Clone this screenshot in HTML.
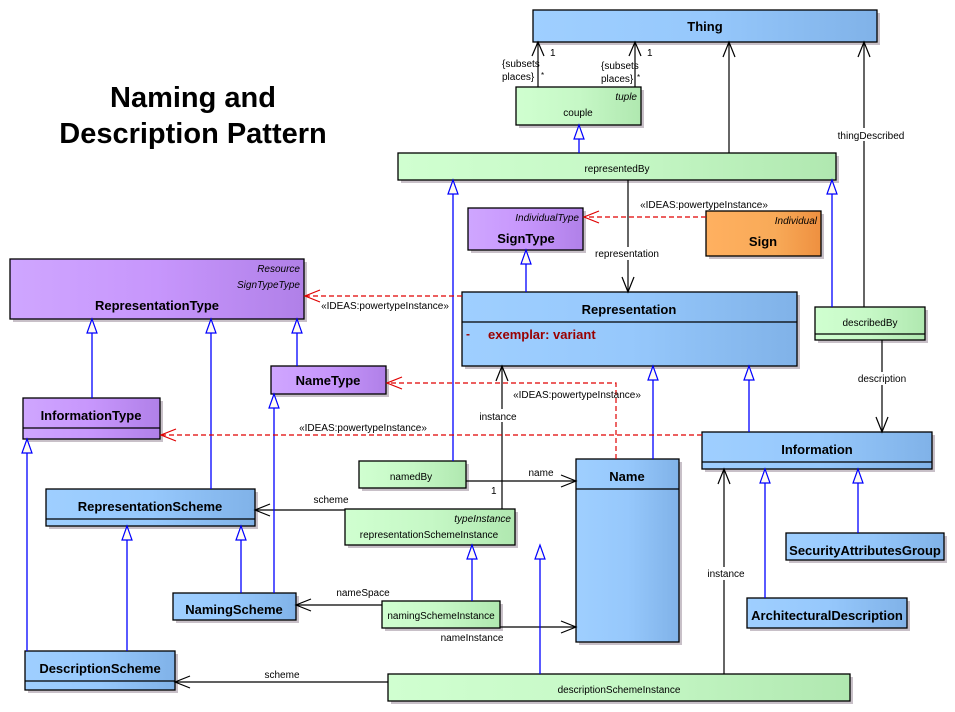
<!DOCTYPE html>
<html><head><meta charset="utf-8"><style>
html,body{margin:0;padding:0;background:#fff;}
svg{display:block;font-family:"Liberation Sans",sans-serif;}
.t{font-size:10px;fill:#000;}
.b{font-size:13px;font-weight:bold;fill:#000;}
.i{font-size:10px;font-style:italic;fill:#000;}
.g{stroke:#0000ff;stroke-width:1.3;fill:none;}
.tri{stroke:#0000ff;stroke-width:1.2;fill:#fffbf0;}
.a{stroke:#000;stroke-width:1.2;fill:none;}
.d{stroke:#e00000;stroke-width:1.2;fill:none;stroke-dasharray:5,3;}
.dh{stroke:#e00000;stroke-width:1.2;fill:none;}
.box{stroke:#000;stroke-width:1.3;}
.sh{fill:#c8c0c8;}
</style></head><body>
<svg width="955" height="712" viewBox="0 0 955 712" xmlns="http://www.w3.org/2000/svg">
<defs>
<linearGradient id="gb" x1="0" x2="1"><stop offset="0" stop-color="#9fcfff"/><stop offset="0.5" stop-color="#96c8fc"/><stop offset="1" stop-color="#80b2e8"/></linearGradient>
<linearGradient id="gg" x1="0" x2="1"><stop offset="0" stop-color="#d0ffd0"/><stop offset="0.5" stop-color="#c6f8c6"/><stop offset="1" stop-color="#b0e8b0"/></linearGradient>
<linearGradient id="gp" x1="0" x2="1"><stop offset="0" stop-color="#cfa6ff"/><stop offset="0.5" stop-color="#c796fc"/><stop offset="1" stop-color="#b080e8"/></linearGradient>
<linearGradient id="go" x1="0" x2="1"><stop offset="0" stop-color="#ffb060"/><stop offset="0.6" stop-color="#f8aa58"/><stop offset="1" stop-color="#ee9040"/></linearGradient>
</defs>

<text x="193" y="107" text-anchor="middle" style="font-size:29px;font-weight:bold">Naming and</text>
<text x="193" y="143" text-anchor="middle" style="font-size:29px;font-weight:bold">Description Pattern</text>

<!-- shadows -->
<g class="sh">
<rect x="536" y="13" width="344" height="32"/>
<rect x="519" y="90" width="125" height="38"/>
<rect x="401" y="156" width="438" height="27"/>
<rect x="471" y="211" width="115" height="42"/>
<rect x="709" y="214" width="115" height="45"/>
<rect x="13" y="262" width="294" height="60"/>
<rect x="465" y="295" width="335" height="74"/>
<rect x="818" y="310" width="110" height="33"/>
<rect x="274" y="369" width="115" height="28"/>
<rect x="26" y="401" width="137" height="41"/>
<rect x="705" y="435" width="230" height="37"/>
<rect x="362" y="464" width="107" height="27"/>
<rect x="579" y="462" width="103" height="183"/>
<rect x="49" y="492" width="209" height="37"/>
<rect x="348" y="512" width="170" height="36"/>
<rect x="789" y="536" width="158" height="27"/>
<rect x="176" y="596" width="123" height="27"/>
<rect x="385" y="604" width="118" height="27"/>
<rect x="750" y="601" width="160" height="30"/>
<rect x="28" y="654" width="150" height="39"/>
<rect x="391" y="677" width="462" height="27"/>
</g>

<!-- boxes -->
<rect class="box" x="533" y="10" width="344" height="32" fill="url(#gb)"/>
<text class="b" x="705" y="31" text-anchor="middle">Thing</text>

<rect class="box" x="516" y="87" width="125" height="38" fill="url(#gg)"/>
<text class="i" x="637" y="100" text-anchor="end">tuple</text>
<text class="t" x="578" y="116" text-anchor="middle">couple</text>

<rect class="box" x="398" y="153" width="438" height="27" fill="url(#gg)"/>
<text class="t" x="617" y="172" text-anchor="middle">representedBy</text>

<rect class="box" x="468" y="208" width="115" height="42" fill="url(#gp)"/>
<text class="i" x="579" y="221" text-anchor="end">IndividualType</text>
<text class="b" x="526" y="243" text-anchor="middle">SignType</text>

<rect class="box" x="706" y="211" width="115" height="45" fill="url(#go)"/>
<text class="i" x="817" y="224" text-anchor="end">Individual</text>
<text class="b" x="763" y="246" text-anchor="middle">Sign</text>

<rect class="box" x="10" y="259" width="294" height="60" fill="url(#gp)"/>
<text class="i" x="300" y="272" text-anchor="end">Resource</text>
<text class="i" x="300" y="288" text-anchor="end">SignTypeType</text>
<text class="b" x="157" y="310" text-anchor="middle">RepresentationType</text>

<rect class="box" x="462" y="292" width="335" height="74" fill="url(#gb)"/>
<line x1="462" y1="322" x2="797" y2="322" stroke="#000" stroke-width="1.3"/>
<text class="b" x="629" y="314" text-anchor="middle">Representation</text>
<text x="466" y="338" style="font-size:12px;font-weight:bold;fill:#990000">-</text>
<text x="488" y="339" style="font-size:13px;font-weight:bold;fill:#990000">exemplar:  variant</text>

<rect class="box" x="815" y="307" width="110" height="33" fill="url(#gg)"/>
<line x1="815" y1="334" x2="925" y2="334" stroke="#000" stroke-width="1.3"/>
<text class="t" x="870" y="326" text-anchor="middle">describedBy</text>

<rect class="box" x="271" y="366" width="115" height="28" fill="url(#gp)"/>
<text class="b" x="328" y="385" text-anchor="middle">NameType</text>

<rect class="box" x="23" y="398" width="137" height="41" fill="url(#gp)"/>
<line x1="23" y1="428" x2="160" y2="428" stroke="#000" stroke-width="1.3"/>
<text class="b" x="91" y="420" text-anchor="middle">InformationType</text>

<rect class="box" x="702" y="432" width="230" height="37" fill="url(#gb)"/>
<line x1="702" y1="462" x2="932" y2="462" stroke="#000" stroke-width="1.3"/>
<text class="b" x="817" y="454" text-anchor="middle">Information</text>

<rect class="box" x="359" y="461" width="107" height="27" fill="url(#gg)"/>
<text class="t" x="411" y="480" text-anchor="middle">namedBy</text>

<rect class="box" x="576" y="459" width="103" height="183" fill="url(#gb)"/>
<line x1="576" y1="489" x2="679" y2="489" stroke="#000" stroke-width="1.3"/>
<text class="b" x="627" y="481" text-anchor="middle">Name</text>

<rect class="box" x="46" y="489" width="209" height="37" fill="url(#gb)"/>
<line x1="46" y1="519" x2="255" y2="519" stroke="#000" stroke-width="1.3"/>
<text class="b" x="150" y="511" text-anchor="middle">RepresentationScheme</text>

<rect class="box" x="345" y="509" width="170" height="36" fill="url(#gg)"/>
<text class="i" x="511" y="522" text-anchor="end">typeInstance</text>
<text class="t" x="429" y="538" text-anchor="middle">representationSchemeInstance</text>

<rect class="box" x="786" y="533" width="158" height="27" fill="url(#gb)"/>
<text class="b" x="865" y="555" text-anchor="middle">SecurityAttributesGroup</text>

<rect class="box" x="173" y="593" width="123" height="27" fill="url(#gb)"/>
<text class="b" x="234" y="614" text-anchor="middle">NamingScheme</text>

<rect class="box" x="382" y="601" width="118" height="27" fill="url(#gg)"/>
<text class="t" x="441" y="619" text-anchor="middle">namingSchemeInstance</text>

<rect class="box" x="747" y="598" width="160" height="30" fill="url(#gb)"/>
<text class="b" x="827" y="620" text-anchor="middle">ArchitecturalDescription</text>

<rect class="box" x="25" y="651" width="150" height="39" fill="url(#gb)"/>
<line x1="25" y1="681" x2="175" y2="681" stroke="#000" stroke-width="1.3"/>
<text class="b" x="100" y="673" text-anchor="middle">DescriptionScheme</text>

<rect class="box" x="388" y="674" width="462" height="27" fill="url(#gg)"/>
<text class="t" x="619" y="693" text-anchor="middle">descriptionSchemeInstance</text>

<!-- associations (black) -->
<line class="a" x1="538" y1="87" x2="538" y2="42"/><polyline class="a" points="532,56 538,42 544,56"/>
<line class="a" x1="635" y1="87" x2="635" y2="42"/><polyline class="a" points="629,56 635,42 641,56"/>
<text class="t" x="550" y="56">1</text><text class="t" x="647" y="56">1</text>
<text class="t" x="502" y="67">{subsets</text><text class="t" x="502" y="80">places}</text>
<text class="t" x="541" y="78" style="font-size:8px">*</text>
<text class="t" x="601" y="69">{subsets</text><text class="t" x="601" y="82">places}</text>
<text class="t" x="637" y="80" style="font-size:8px">*</text>

<line class="a" x1="729" y1="153" x2="729" y2="42"/><polyline class="a" points="723,57 729,42 735,57"/>
<line class="a" x1="864" y1="307" x2="864" y2="42"/><polyline class="a" points="858,57 864,42 870,57"/>
<rect x="833" y="128" width="76" height="13" fill="#fff"/>
<text class="t" x="871" y="139" text-anchor="middle">thingDescribed</text>

<line class="a" x1="628" y1="180" x2="628" y2="292"/><polyline class="a" points="622,277 628,292 634,277"/>
<rect x="592" y="247" width="72" height="13" fill="#fff"/>
<text class="t" x="627" y="257" text-anchor="middle">representation</text>

<line class="a" x1="882" y1="340" x2="882" y2="432"/><polyline class="a" points="876,417 882,432 888,417"/>
<rect x="855" y="372" width="56" height="13" fill="#fff"/>
<text class="t" x="882" y="382" text-anchor="middle">description</text>

<line class="a" x1="502" y1="509" x2="502" y2="366"/><polyline class="a" points="496,381 502,366 508,381"/>
<rect x="477" y="409" width="44" height="13" fill="#fff"/>
<text class="t" x="498" y="420" text-anchor="middle">instance</text>

<line class="a" x1="466" y1="481" x2="576" y2="481"/><polyline class="a" points="561,475 576,481 561,487"/>
<text class="t" x="541" y="476" text-anchor="middle">name</text>
<text class="t" x="491" y="494">1</text>

<line class="a" x1="345" y1="510" x2="255" y2="510"/><polyline class="a" points="270,504 255,510 270,516"/>
<text class="t" x="331" y="503" text-anchor="middle">scheme</text>

<line class="a" x1="382" y1="605" x2="296" y2="605"/><polyline class="a" points="311,599 296,605 311,611"/>
<text class="t" x="363" y="596" text-anchor="middle">nameSpace</text>

<line class="a" x1="500" y1="627" x2="576" y2="627"/><polyline class="a" points="561,621 576,627 561,633"/>
<text class="t" x="472" y="641" text-anchor="middle">nameInstance</text>

<line class="a" x1="388" y1="682" x2="175" y2="682"/><polyline class="a" points="190,676 175,682 190,688"/>
<text class="t" x="282" y="678" text-anchor="middle">scheme</text>

<line class="a" x1="724" y1="674" x2="724" y2="469"/><polyline class="a" points="718,484 724,469 730,484"/>
<rect x="705" y="567" width="42" height="13" fill="#fff"/>
<text class="t" x="726" y="577" text-anchor="middle">instance</text>

<!-- generalizations (blue) -->
<line class="g" x1="579" y1="153" x2="579" y2="139"/><polygon class="tri" points="579,125 574,139 584,139"/>
<line class="g" x1="526" y1="292" x2="526" y2="264"/><polygon class="tri" points="526,250 521,264 531,264"/>
<line class="g" x1="832" y1="307" x2="832" y2="194"/><polygon class="tri" points="832,180 827,194 837,194"/>
<line class="g" x1="453" y1="461" x2="453" y2="194"/><polygon class="tri" points="453,180 448,194 458,194"/>
<line class="g" x1="92" y1="398" x2="92" y2="333"/><polygon class="tri" points="92,319 87,333 97,333"/>
<line class="g" x1="211" y1="489" x2="211" y2="333"/><polygon class="tri" points="211,319 206,333 216,333"/>
<line class="g" x1="297" y1="366" x2="297" y2="333"/><polygon class="tri" points="297,319 292,333 302,333"/>
<line class="g" x1="653" y1="459" x2="653" y2="380"/><polygon class="tri" points="653,366 648,380 658,380"/>
<line class="g" x1="749" y1="432" x2="749" y2="380"/><polygon class="tri" points="749,366 744,380 754,380"/>
<line class="g" x1="27" y1="651" x2="27" y2="453"/><polygon class="tri" points="27,439 22,453 32,453"/>
<line class="g" x1="127" y1="651" x2="127" y2="540"/><polygon class="tri" points="127,526 122,540 132,540"/>
<line class="g" x1="241" y1="593" x2="241" y2="540"/><polygon class="tri" points="241,526 236,540 246,540"/>
<line class="g" x1="274" y1="593" x2="274" y2="408"/><polygon class="tri" points="274,394 269,408 279,408"/>
<line class="g" x1="472" y1="601" x2="472" y2="559"/><polygon class="tri" points="472,545 467,559 477,559"/>
<line class="g" x1="540" y1="674" x2="540" y2="559"/><polygon class="tri" points="540,545 535,559 545,559"/>
<line class="g" x1="765" y1="598" x2="765" y2="483"/><polygon class="tri" points="765,469 760,483 770,483"/>
<line class="g" x1="858" y1="533" x2="858" y2="483"/><polygon class="tri" points="858,469 853,483 863,483"/>

<!-- dependencies (red dashed) -->
<line class="d" x1="706" y1="217" x2="584" y2="217"/><polyline class="dh" points="599,211 584,217 599,223"/>
<text class="t" x="704" y="208" text-anchor="middle">«IDEAS:powertypeInstance»</text>

<line class="d" x1="462" y1="296" x2="305" y2="296"/><polyline class="dh" points="320,290 305,296 320,302"/>
<text class="t" x="385" y="309" text-anchor="middle">«IDEAS:powertypeInstance»</text>

<polyline class="d" points="616,459 616,383 387,383"/><polyline class="dh" points="402,377 387,383 402,389"/>
<text class="t" x="577" y="398" text-anchor="middle">«IDEAS:powertypeInstance»</text>

<line class="d" x1="702" y1="435" x2="161" y2="435"/><polyline class="dh" points="176,429 161,435 176,441"/>
<text class="t" x="363" y="431" text-anchor="middle">«IDEAS:powertypeInstance»</text>
</svg>
</body></html>
